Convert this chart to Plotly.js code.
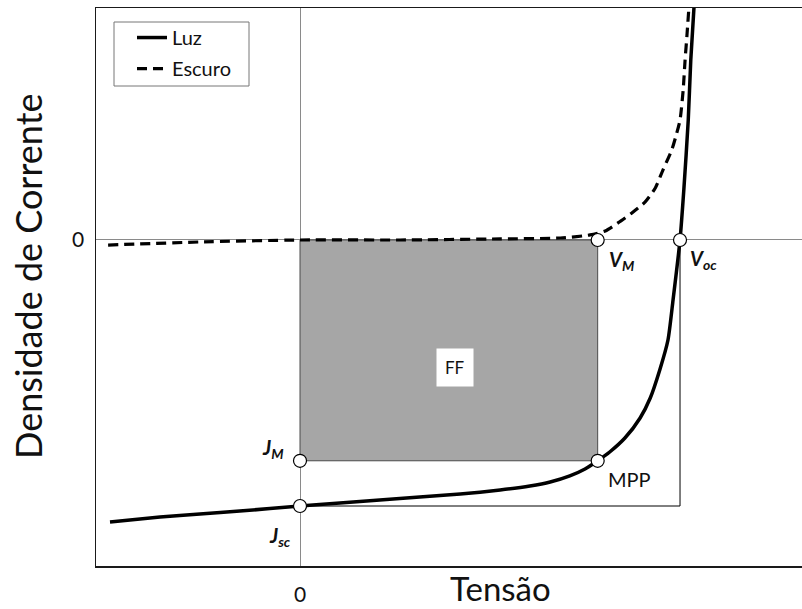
<!DOCTYPE html>
<html>
<head>
<meta charset="utf-8">
<script src="https://cdn.plot.ly/plotly-3.0.1.min.js"></script>
<style>
  html, body { margin: 0; padding: 0; background: #fff; overflow: hidden; }
  #chart { width: 802px; height: 609px; }
</style>
</head>
<body>
<div id="chart"></div>
<script>
// Curva J-V de uma célula solar, sob iluminação e no escuro (unidades arbitrárias)
const luzV = [-0.300, -0.221, -0.158, -0.095, 0.000, 0.063, 0.126, 0.189, 0.253, 0.316,
              0.363, 0.395, 0.426, 0.450, 0.470, 0.489, 0.513, 0.537, 0.553, 0.568,
              0.581, 0.589, 0.600, 0.606, 0.613, 0.617, 0.622];
const luzJ = [-21.20, -20.83, -20.60, -20.38, -20.00, -19.77, -19.55, -19.32, -19.10, -18.80,
              -18.50, -18.20, -17.74, -17.22, -16.60, -15.94, -14.89, -13.38, -11.88, -9.77,
              -7.52, -4.51, 0.00, 3.76, 9.02, 13.53, 17.44];

const escuroV = [-0.303, -0.158, 0.000, 0.158, 0.316, 0.411, 0.458, 0.482, 0.502, 0.524,
                 0.545, 0.561, 0.573, 0.587, 0.594, 0.600, 0.605, 0.608, 0.611, 0.614];
const escuroJ = [-0.38, -0.15, 0.00, 0.00, 0.08, 0.15, 0.38, 0.68, 1.28, 2.03,
                 2.86, 3.91, 5.26, 6.77, 7.89, 9.02, 11.28, 13.53, 15.41, 17.44];

// Pontos característicos
const JSC = -20.0;   // densidade de corrente de curto-circuito
const JM = -16.6;    // densidade de corrente no ponto de máxima potência
const VM = 0.47;     // tensão no ponto de máxima potência
const VOC = 0.60;    // tensão de circuito aberto
const pontosV = [0, 0, VM, VM, VOC];
const pontosJ = [JSC, JM, JM, 0, 0];

const FONT = 'Lato, "Open Sans", sans-serif';
const INK = '#111111';

const traces = [
  // retângulo VM x JM (fator de preenchimento)
  {
    x: [0, VM, VM, 0, 0], y: [0, 0, JM, JM, 0],
    mode: 'lines', fill: 'toself', fillcolor: '#a6a6a6',
    line: { color: '#4a4a4a', width: 1 },
    showlegend: false, hoverinfo: 'skip'
  },
  // limites Voc x Jsc
  {
    x: [0, VOC, VOC], y: [JSC, JSC, 0],
    mode: 'lines', line: { color: '#000', width: 1 },
    showlegend: false, hoverinfo: 'skip'
  },
  {
    name: 'Escuro', x: escuroV, y: escuroJ, mode: 'lines',
    line: { color: '#000', width: 3.2, dash: '10px,6px', shape: 'spline', smoothing: 0.6 },
    legendrank: 2, legendgroup: 'b'
  },
  {
    name: 'Luz', x: luzV, y: luzJ, mode: 'lines',
    line: { color: '#000', width: 3.5, shape: 'spline', smoothing: 0.6 },
    legendrank: 1, legendgroup: 'a'
  },
  {
    x: pontosV, y: pontosJ, mode: 'markers',
    marker: { size: 13, color: '#fff', line: { color: '#000', width: 1.2 } },
    showlegend: false, hoverinfo: 'skip'
  }
];

function rotulo(x, y, text, dx, dy, size, extra) {
  return Object.assign({
    x: x, y: y, xref: 'x', yref: 'y', text: text, showarrow: false,
    xshift: dx, yshift: dy, xanchor: 'center', yanchor: 'middle',
    font: { family: FONT, size: size, color: INK }
  }, extra || {});
}

const annotations = [
  rotulo(VM, 0, '<b><i>V<sub>M</sub></i></b>', 24, -21, 20),
  rotulo(VOC, 0, '<b><i>V<sub>oc</sub></i></b>', 23, -20, 20),
  rotulo(0, JM, '<b><i>J<sub>M</sub></i></b>', -27, 12, 20),
  rotulo(0, JSC, '<b><i>J<sub>sc</sub></i></b>', -20, -30, 20),
  rotulo(VM, JM, 'MPP', 32, -18, 20),
  rotulo(0.2447, -9.55, 'FF', 0, 0, 17,
         { bgcolor: '#ffffff', borderpad: 8 }),
  {
    text: 'Tensão', xref: 'paper', yref: 'paper', x: (500 - 96) / 706, y: 0,
    yshift: -22, xanchor: 'center', yanchor: 'middle', showarrow: false,
    font: { family: FONT, size: 33, color: INK }
  },
  {
    text: 'Densidade de Corrente', xref: 'paper', yref: 'paper', x: 0, y: 1 - (276 - 8) / 558,
    xshift: -68, xanchor: 'center', yanchor: 'middle', textangle: -90, showarrow: false,
    font: { family: FONT, size: 36, color: INK }
  }
];

const layout = {
  width: 802, height: 609,
  margin: { l: 96, r: 0, t: 8, b: 43 },
  paper_bgcolor: '#fff', plot_bgcolor: '#fff',
  font: { family: FONT, color: INK },
  showlegend: true,
  legend: {
    x: 0.051, y: 0.982, xanchor: 'left', yanchor: 'top',
    bgcolor: 'rgba(0,0,0,0)', borderwidth: 0,
    traceorder: 'grouped', tracegroupgap: 2,
    font: { family: FONT, size: 20, color: INK }
  },
  xaxis: {
    range: [-0.3221, 0.7926], showgrid: false,
    zeroline: true, zerolinecolor: '#8a8a8a', zerolinewidth: 1,
    showline: true, mirror: true, linecolor: '#1a1a1a', linewidth: 1.5,
    tickmode: 'array', tickvals: [0], ticktext: ['0'],
    ticks: 'outside', ticklen: 9, tickcolor: 'rgba(0,0,0,0)',
    tickfont: { family: FONT, size: 21, color: INK }
  },
  yaxis: {
    range: [-24.51, 17.44], showgrid: false,
    zeroline: true, zerolinecolor: '#8a8a8a', zerolinewidth: 1,
    showline: true, mirror: false, linecolor: '#1a1a1a', linewidth: 1.5,
    tickmode: 'array', tickvals: [0], ticktext: ['0'],
    ticks: 'outside', ticklen: 6, tickcolor: 'rgba(0,0,0,0)',
    tickfont: { family: FONT, size: 21, color: INK }
  },
  shapes: [
    // moldura da legenda
    {
      type: 'rect', xref: 'paper', yref: 'paper',
      x0: 18 / 706, x1: 153 / 706, y0: 1 - 78 / 558, y1: 1 - 14 / 558,
      line: { color: '#777', width: 1 }, fillcolor: 'rgba(0,0,0,0)'
    }
  ],
  annotations: annotations
};

Plotly.newPlot('chart', traces, layout, { displayModeBar: false, staticPlot: true });
</script>
</body>
</html>
